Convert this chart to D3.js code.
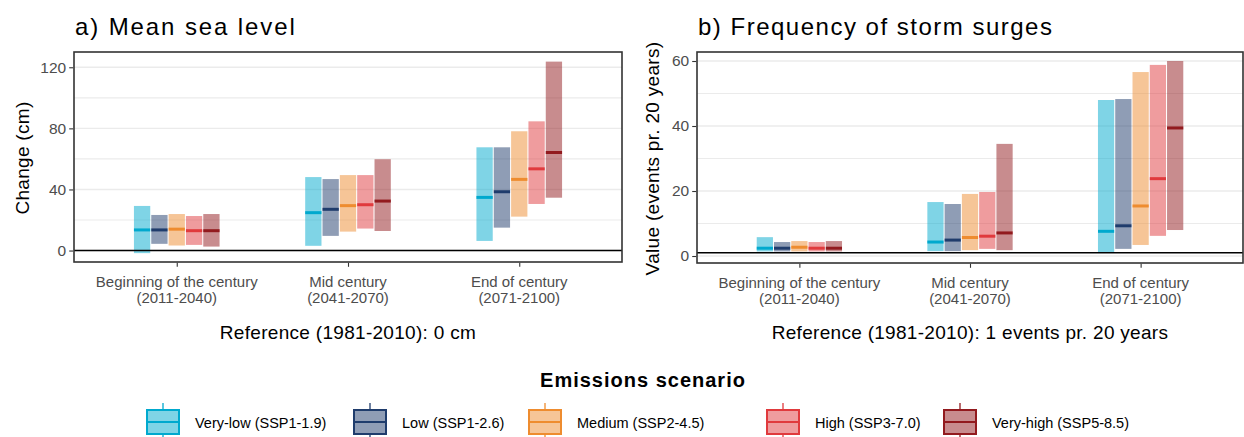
<!DOCTYPE html>
<html>
<head>
<meta charset="utf-8">
<script src="https://cdn.jsdelivr.net/npm/d3@7"></script>
<style>
  body { margin: 0; background: #fff; }
  svg { font-family: "Liberation Sans", Arial, sans-serif; display: block; }
</style>
</head>
<body>
<script>
//periods on the x axis (two line labels)
var periods = ["Beginning of the century", "Mid century", "End of century"];
var periodYears = ["(2011-2040)", "(2041-2070)", "(2071-2100)"];

//emission scenarios and their colours
var scenarios = ["Very-low (SSP1-1.9)", "Low (SSP1-2.6)", "Medium (SSP2-4.5)", "High (SSP3-7.0)", "Very-high (SSP5-8.5)"];
var scenarioColors = ["#00a9ce", "#1f3c6c", "#ee8c2f", "#e03a3d", "#921a1e"];

//a) mean sea level change (cm), one row per period, one value per scenario
var seaLow  = [[-1.7, 4.4, 3.3, 3.7, 2.6], [3.1, 9.6, 12.4, 14.4, 12.8], [6.3, 15.0, 22.2, 30.5, 34.6]];
var seaMed  = [[13.5, 13.5, 14.0, 13.0, 13.0], [24.8, 27.0, 29.4, 30.0, 32.4], [34.8, 38.5, 46.6, 53.5, 64.2]];
var seaHigh = [[29.2, 23.3, 23.9, 22.6, 23.9], [48.1, 46.8, 49.4, 49.4, 59.8], [67.6, 67.6, 78.1, 84.6, 123.7]];
var seaTicks = [0, 40, 80, 120];
var seaMinor = [20, 60, 100];
var seaRef = 0;

//b) storm surges (events pr. 20 years)
var surgeLow  = [[1.4, 1.4, 1.4, 1.4, 1.4], [1.5, 1.5, 1.8, 2.2, 1.8], [1.1, 2.2, 3.4, 6.2, 8.0]];
var surgeMed  = [[2.4, 2.4, 2.7, 2.4, 2.4], [4.3, 4.9, 5.7, 6.1, 7.1], [7.6, 9.3, 15.4, 23.8, 39.4]];
var surgeHigh = [[5.8, 4.3, 4.6, 4.3, 4.6], [16.6, 16.0, 19.1, 19.7, 34.5], [48.0, 48.3, 56.6, 58.8, 60.0]];
var surgeTicks = [0, 20, 40, 60];
var surgeMinor = [10, 30, 50];
var surgeRef = 1;

var w = 1244, h = 437;

var svg = d3.select("body").append("svg")
    .attr("width", w)
    .attr("height", h);

//turn the row arrays into records for the join
function makeRows(lo, med, hi) {
    var rows = [];
    periods.forEach(function(p, i) {
        scenarios.forEach(function(s, j) {
            rows.push({period: p, scenario: s, low: lo[i][j], med: med[i][j], high: hi[i][j]});
        });
    });
    return rows;
}

function drawPanel(opt) {
    var x0 = opt.left, x1 = opt.right, y0 = opt.top, y1 = opt.bottom;

    var x = d3.scalePoint()
        .domain(periods)
        .range([x0, x1])
        .padding(0.6);

    var xs = d3.scaleBand()
        .domain(scenarios)
        .range([-x.step() * 0.25, x.step() * 0.25])
        .paddingInner(0.06);

    var y = d3.scaleLinear()
        .domain(opt.domain)
        .range([y1, y0]);

    var color = d3.scaleOrdinal().domain(scenarios).range(scenarioColors);

    var g = svg.append("g").attr("class", "panel");

    //grid lines
    g.selectAll(".minor")
        .data(opt.minor)
        .enter()
        .append("line")
        .attr("x1", x0).attr("x2", x1)
        .attr("y1", function(d){ return y(d); })
        .attr("y2", function(d){ return y(d); })
        .style("stroke", "#ebebeb")
        .style("stroke-width", 1.2);

    g.selectAll(".major")
        .data(opt.ticks)
        .enter()
        .append("line")
        .attr("x1", x0).attr("x2", x1)
        .attr("y1", function(d){ return y(d); })
        .attr("y2", function(d){ return y(d); })
        .style("stroke", "#ebebeb")
        .style("stroke-width", 1.4);

    var rows = makeRows(opt.lo, opt.med, opt.hi);

    //range bars
    g.selectAll(".bar")
        .data(rows)
        .enter()
        .append("rect")
        .attr("class", "bar")
        .attr("x", function(d){ return x(d.period) + xs(d.scenario); })
        .attr("width", xs.bandwidth())
        .attr("y", function(d){ return y(d.high); })
        .attr("height", function(d){ return y(d.low) - y(d.high); })
        .style("fill", function(d){ return color(d.scenario); })
        .style("fill-opacity", 0.5);

    //median markers
    g.selectAll(".med")
        .data(rows)
        .enter()
        .append("line")
        .attr("class", "med")
        .attr("x1", function(d){ return x(d.period) + xs(d.scenario); })
        .attr("x2", function(d){ return x(d.period) + xs(d.scenario) + xs.bandwidth(); })
        .attr("y1", function(d){ return y(d.med); })
        .attr("y2", function(d){ return y(d.med); })
        .style("stroke", function(d){ return color(d.scenario); })
        .style("stroke-width", 3);

    //reference line
    g.append("line")
        .attr("x1", x0).attr("x2", x1)
        .attr("y1", y(opt.ref)).attr("y2", y(opt.ref))
        .style("stroke", "#000")
        .style("stroke-width", 1.6);

    //panel border
    g.append("rect")
        .attr("x", x0).attr("y", y0)
        .attr("width", x1 - x0).attr("height", y1 - y0)
        .style("fill", "none")
        .style("stroke", "#333")
        .style("stroke-width", 1.6);

    //y axis
    var yAxis = d3.axisLeft(y)
        .tickValues(opt.ticks)
        .tickSize(4)
        .tickPadding(3);
    var ya = g.append("g")
        .attr("transform", "translate(" + (x0 - 0.8) + ",0)")
        .call(yAxis);
    ya.select(".domain").remove();
    ya.selectAll(".tick line").style("stroke", "#333").style("stroke-width", 1.1);
    ya.selectAll(".tick text")
        .style("font-size", "15.5px")
        .style("fill", "#4d4d4d")
        .style("font-family", "Liberation Sans, Arial, sans-serif");

    //x axis
    var xAxis = d3.axisBottom(x).tickSize(4).tickFormat("");
    var xa = g.append("g")
        .attr("transform", "translate(0," + (y1 + 0.8) + ")")
        .call(xAxis);
    xa.select(".domain").remove();
    xa.selectAll(".tick line").style("stroke", "#333").style("stroke-width", 1.1);

    var lab = g.selectAll(".xlab")
        .data(periods)
        .enter()
        .append("text")
        .attr("class", "xlab")
        .attr("text-anchor", "middle")
        .style("font-size", "15px")
        .style("fill", "#4d4d4d");
    lab.append("tspan")
        .attr("x", function(d){ return x(d); })
        .attr("y", y1 + 24.5)
        .text(function(d){ return d; });
    lab.append("tspan")
        .attr("x", function(d){ return x(d); })
        .attr("y", y1 + 41)
        .text(function(d, i){ return periodYears[i]; });

    //titles
    g.append("text")
        .attr("x", x0 + 1)
        .attr("y", 35)
        .style("font-size", "24px")
        .style("letter-spacing", opt.titleSpacing)
        .style("fill", "#000")
        .text(opt.title);

    g.append("text")
        .attr("text-anchor", "middle")
        .attr("x", (x0 + x1) / 2)
        .attr("y", 339)
        .style("font-size", "19px")
        .style("letter-spacing", "0.3px")
        .style("fill", "#000")
        .text(opt.xTitle);

    g.append("text")
        .attr("text-anchor", "middle")
        .attr("transform", "translate(" + opt.yTitleX + "," + ((y0 + y1) / 2 + 1) + ") rotate(-90)")
        .style("font-size", "19px")
        .style("letter-spacing", "0.3px")
        .style("fill", "#000")
        .text(opt.yTitle);
}

drawPanel({
    left: 74, right: 622, top: 52, bottom: 262,
    domain: [-7.5, 130],
    ticks: seaTicks, minor: seaMinor, ref: seaRef,
    lo: seaLow, med: seaMed, hi: seaHigh,
    title: "a) Mean sea level",
    titleSpacing: "1.9px",
    xTitle: "Reference (1981-2010): 0 cm",
    yTitle: "Change (cm)",
    yTitleX: 29
});

drawPanel({
    left: 697, right: 1243, top: 52, bottom: 263,
    domain: [-2.15, 62.77],
    ticks: surgeTicks, minor: surgeMinor, ref: surgeRef,
    lo: surgeLow, med: surgeMed, hi: surgeHigh,
    title: "b) Frequency of storm surges",
    titleSpacing: "1.5px",
    xTitle: "Reference (1981-2010): 1 events pr. 20 years",
    yTitle: "Value (events pr. 20 years)",
    yTitleX: 659
});

//legend
var legendX = [146, 353, 528, 766, 943];

svg.append("text")
    .attr("text-anchor", "middle")
    .attr("x", 643)
    .attr("y", 387)
    .style("font-size", "20px")
    .style("font-weight", "bold")
    .style("letter-spacing", "1px")
    .text("Emissions scenario");

var keys = svg.selectAll(".key")
    .data(scenarios)
    .enter()
    .append("g")
    .attr("class", "key")
    .attr("transform", function(d, i){ return "translate(" + legendX[i] + ",0)"; });

keys.append("line")
    .attr("x1", 17).attr("x2", 17)
    .attr("y1", 403).attr("y2", 437)
    .style("stroke", function(d, i){ return scenarioColors[i]; })
    .style("stroke-width", 1.3);

keys.append("rect")
    .attr("x", 1).attr("y", 410)
    .attr("width", 32).attr("height", 24)
    .style("fill", "#fff")
    .style("stroke", "none");

keys.append("rect")
    .attr("x", 1).attr("y", 410)
    .attr("width", 32).attr("height", 24)
    .style("fill", function(d, i){ return scenarioColors[i]; })
    .style("fill-opacity", 0.5)
    .style("stroke", function(d, i){ return scenarioColors[i]; })
    .style("stroke-width", 2);

keys.append("line")
    .attr("x1", 1).attr("x2", 33)
    .attr("y1", 422).attr("y2", 422)
    .style("stroke", function(d, i){ return scenarioColors[i]; })
    .style("stroke-width", 2);

keys.append("text")
    .attr("x", 49)
    .attr("y", 428)
    .style("font-size", "14.5px")
    .style("fill", "#000")
    .text(function(d){ return d; });
</script>
</body>
</html>
